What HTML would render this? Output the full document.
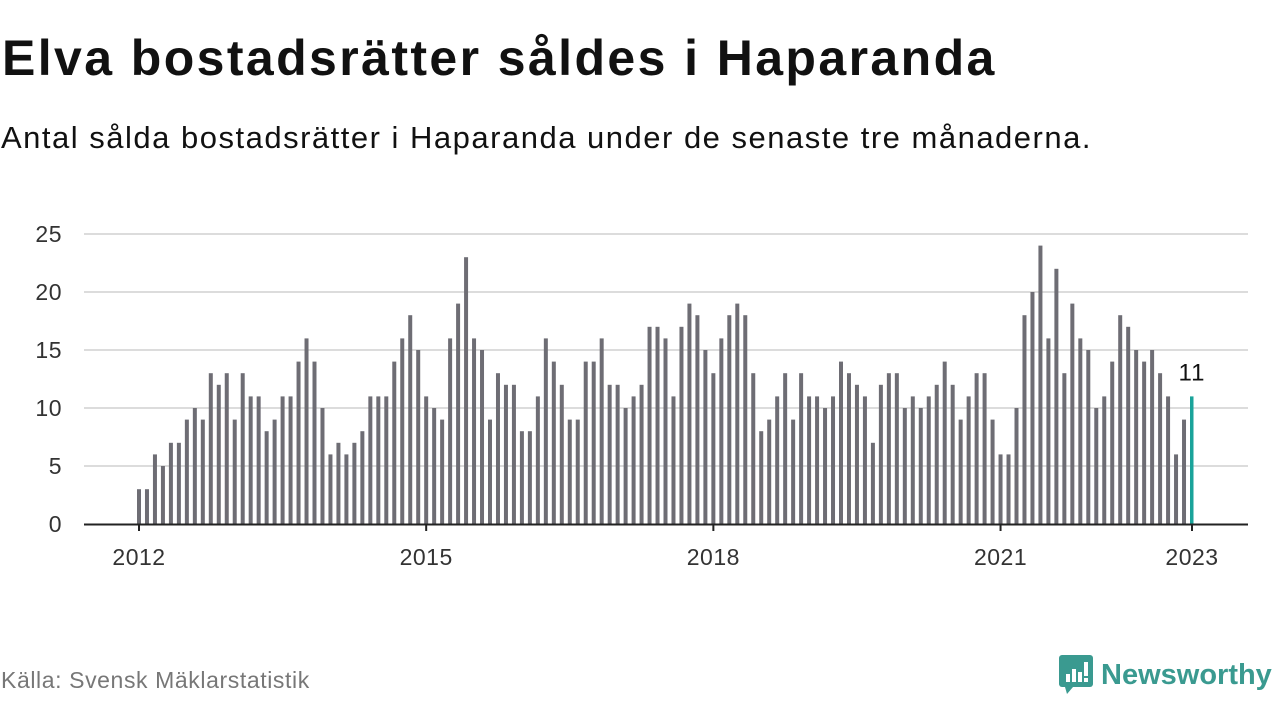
<!DOCTYPE html>
<html><head><meta charset="utf-8"><style>
body{margin:0;width:1280px;height:720px;background:#fff;font-family:"Liberation Sans","DejaVu Sans",sans-serif;overflow:hidden;position:relative}
#title{position:absolute;left:2px;top:33px;font-size:50px;line-height:1;font-weight:bold;color:#111;margin:0;letter-spacing:2.4px;white-space:nowrap}
#sub{position:absolute;left:1px;top:122px;font-size:31px;line-height:1;color:#111;margin:0;letter-spacing:1.5px;white-space:nowrap}
#src{position:absolute;left:1px;top:669px;font-size:23px;line-height:1;color:#777;letter-spacing:0.6px}
#logo{position:absolute;left:1059px;top:655px;display:flex;align-items:center}
#logo span{font-size:29px;font-weight:bold;color:#3a9a90;margin-left:6px}
</style></head><body>
<h1 id="title">Elva bostadsrätter såldes i Haparanda</h1>
<p id="sub">Antal sålda bostadsrätter i Haparanda under de senaste tre månaderna.</p>
<svg id="chart" width="1280" height="720" style="position:absolute;left:0;top:0"></svg>
<div id="src">Källa: Svensk Mäklarstatistik</div>
<div id="logo">
<svg width="36" height="40" viewBox="0 0 36 40"><rect x="0" y="0" width="34" height="32" rx="3" fill="#3a9a90"/><polygon points="6,32 14,32 8,39" fill="#3a9a90"/><rect x="7" y="19" width="4" height="8" fill="#fff"/><rect x="13" y="14" width="4" height="13" fill="#fff"/><rect x="19" y="17" width="4" height="10" fill="#fff"/><rect x="25" y="7" width="4" height="14" fill="#fff"/><rect x="25" y="23" width="4" height="4" fill="#fff"/></svg>
<span>Newsworthy</span></div>
<script>
const values=[3,3,6,5,7,7,9,10,9,13,12,13,9,13,11,11,8,9,11,11,14,16,14,10,6,7,6,7,8,11,11,11,14,16,18,15,11,10,9,16,19,23,16,15,9,13,12,12,8,8,11,16,14,12,9,9,14,14,16,12,12,10,11,12,17,17,16,11,17,19,18,15,13,16,18,19,18,13,8,9,11,13,9,13,11,11,10,11,14,13,12,11,7,12,13,13,10,11,10,11,12,14,12,9,11,13,13,9,6,6,10,18,20,24,16,22,13,19,16,15,10,11,14,18,17,15,14,15,13,11,6,9,11];
const startYear=2012;
const yTicks=[0,5,10,15,20,25];
const xTickYears=[2012,2015,2018,2021,2023];
const NS="http://www.w3.org/2000/svg";
const svg=document.getElementById('chart');
const x0=139,x1=1192,y0=524,y25=234;
const n=values.length;
const xs=i=>x0+(x1-x0)*i/(n-1);
const ys=v=>y0-(y0-y25)*v/25;
function mk(t,a){const e=document.createElementNS(NS,t);for(const k in a)e.setAttribute(k,a[k]);svg.appendChild(e);return e;}
yTicks.forEach(v=>{
 if(v>0){const g=mk('line',{x1:84,x2:1248,y1:ys(v),y2:ys(v),stroke:'#dcdcdc','stroke-width':2});
 
 }
 const t=mk('text',{x:62,y:ys(v)+8,'text-anchor':'end','font-size':23,fill:'#333','font-family':'Liberation Sans, sans-serif','letter-spacing':'0.5'});
 t.textContent=v;
 
 
});
values.forEach((v,i)=>{
 const last=i===n-1;
 const r=mk('rect',{x:xs(i)-2,y:ys(v),width:last?3.5:4,height:y0-ys(v),fill:last?'#1aa39a':'#6e6d74'});
 
 
});
const ax=mk('line',{x1:84,x2:1248,y1:y0+0.5,y2:y0+0.5,stroke:'#222','stroke-width':2});


xTickYears.forEach(yr=>{
 const x=xs((yr-startYear)*12);
 const tk=mk('line',{x1:x,x2:x,y1:y0,y2:y0+7,stroke:'#222','stroke-width':2});
 
 
 const t=mk('text',{x:x,y:565,'text-anchor':'middle','font-size':23,fill:'#333','font-family':'Liberation Sans, sans-serif','letter-spacing':'0.5'});
 t.textContent=yr;
 
 
});
const lv=values[n-1];
const lab=mk('text',{x:xs(n-1),y:ys(lv)-16,'text-anchor':'middle','font-size':24,fill:'#111','font-family':'Liberation Sans, sans-serif','letter-spacing':'1'});
lab.textContent=lv;


</script>
</body></html>
